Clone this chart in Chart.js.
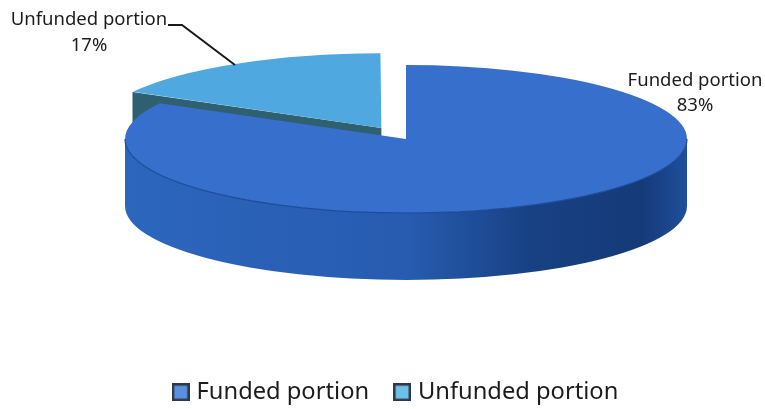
<!DOCTYPE html>
<html>
<head>
<meta charset="utf-8">
<style>
  html, body { margin: 0; padding: 0; background: #fff; }
  #wrap { width: 765px; height: 409px; }
</style>
<script src="https://cdn.jsdelivr.net/npm/chart.js@4"></script>
</head>
<body>
<div id="wrap"><canvas id="chart" width="765" height="409"></canvas></div>
<script>
const CATEGORIES = ['Funded portion', 'Unfunded portion'];
const VALUES = [83, 17];
const SHARE_LABELS = ['83%', '17%'];
const TOP_COLORS = ['#3670cc', '#4fa8e0'];
const LEGEND_COLORS = ['#5a8fe2', '#6fbfeb'];

const FONT = '"Noto Sans", sans-serif';
const TEXT_COLOR = '#1c1c1c';

// ellipse the flat pie gets squeezed into
const PIE = { cx: 406, cy: 139, rx: 281, ry: 74, depth: 67 };

// same scale for both slices, taken from the big one
function pieTransform(ctx, base) {
  const kx = PIE.rx / base.outerRadius;
  const ky = PIE.ry / base.outerRadius;
  ctx.translate(PIE.cx, PIE.cy);
  ctx.scale(kx, ky);
  ctx.translate(-base.x, -base.y);
  return PIE.depth / ky;
}

// ── 3D WALLS ──────────────────────────────────────────────
// Drawn under the tops. Arc angles come from the chart's own elements.
function drawWalls(chart, arcs) {
  const ctx = chart.ctx;
  const [funded, unfunded] = arcs;

  // radial wall of the pulled out slice
  ctx.save();
  const depth = pieTransform(ctx, funded);
  const mid = (unfunded.startAngle + unfunded.endAngle) / 2;
  const off = (unfunded.options.offset || 0) / 4;
  const fix = 1 - Math.sin(Math.min(Math.PI, unfunded.circumference));
  const r = unfunded.outerRadius + off * fix; // radius the arc really draws with
  const ox = unfunded.x + Math.cos(mid) * off;
  const oy = unfunded.y + Math.sin(mid) * off;
  const ex = ox + Math.cos(unfunded.startAngle) * r;
  const ey = oy + Math.sin(unfunded.startAngle) * r;
  ctx.beginPath();
  ctx.moveTo(ox, oy);
  ctx.lineTo(ex, ey);
  ctx.lineTo(ex, ey + depth);
  ctx.lineTo(ox, oy + depth);
  ctx.closePath();
  ctx.fillStyle = '#2f6070';
  ctx.fill();
  ctx.restore();

  // curved front wall of the big slice
  ctx.save();
  pieTransform(ctx, funded);
  const R = funded.outerRadius;
  const grad = ctx.createLinearGradient(funded.x - R, 0, funded.x + R, 0);
  grad.addColorStop(0, '#2c66bd');
  grad.addColorStop(0.5, '#275cb0');
  grad.addColorStop(0.72, '#184184');
  grad.addColorStop(0.92, '#153a78');
  grad.addColorStop(1, '#1f4f9c');
  ctx.beginPath();
  ctx.arc(funded.x, funded.y, R, 0, Math.PI);
  ctx.lineTo(funded.x - R, funded.y + depth);
  ctx.arc(funded.x, funded.y + depth, R, Math.PI, 0, true);
  ctx.closePath();
  ctx.fillStyle = grad;
  ctx.fill();
  ctx.restore();
}

function drawRim(chart, funded) {
  const ctx = chart.ctx;
  ctx.save();
  pieTransform(ctx, funded);
  ctx.beginPath();
  ctx.arc(funded.x, funded.y, funded.outerRadius, 0, Math.PI);
  ctx.restore();
  ctx.strokeStyle = '#1d4c9c';
  ctx.lineWidth = 1.2;
  ctx.stroke();
}

function drawLabels(chart) {
  const ctx = chart.ctx;
  ctx.save();
  ctx.fillStyle = TEXT_COLOR;
  ctx.font = '18.5px ' + FONT;
  ctx.textAlign = 'center';
  ctx.textBaseline = 'middle';
  ctx.fillText(CATEGORIES[0], 695, 81);
  ctx.fillText(SHARE_LABELS[0], 695, 106);
  ctx.fillText(CATEGORIES[1], 89, 20);
  ctx.fillText(SHARE_LABELS[1], 89, 46);

  // leader line for the small slice
  ctx.beginPath();
  ctx.moveTo(168, 25);
  ctx.lineTo(182, 25);
  ctx.lineTo(235, 65);
  ctx.strokeStyle = '#1a1a1a';
  ctx.lineWidth = 2;
  ctx.stroke();
  ctx.restore();
}

const squashPlugin = {
  id: 'squash',
  // Chart.js grows a pulled out arc by offset * fix, take half of that back off
  afterDatasetsUpdate(chart) {
    const arc = chart.getDatasetMeta(0).data[1];
    const fix = 1 - Math.sin(Math.min(Math.PI, arc.circumference));
    arc.outerRadius -= (arc.options.offset / 4) * fix * 0.5;
  },
  beforeDatasetsDraw(chart) {
    const arcs = chart.getDatasetMeta(0).data;
    drawWalls(chart, arcs);
    chart.ctx.save();
    pieTransform(chart.ctx, arcs[0]);
  },
  afterDatasetsDraw(chart) {
    chart.ctx.restore();
    drawRim(chart, chart.getDatasetMeta(0).data[0]);
    drawLabels(chart);
  },
};

// legend swatch with dark frame
function makeSwatch(color) {
  const c = document.createElement('canvas');
  c.width = 18;
  c.height = 18;
  const g = c.getContext('2d');
  g.fillStyle = color;
  g.fillRect(0, 0, 18, 18);
  g.strokeStyle = '#2b3a44';
  g.lineWidth = 2.5;
  g.strokeRect(1.25, 1.25, 15.5, 15.5);
  return c;
}

new Chart(document.getElementById('chart'), {
  type: 'pie',
  data: {
    labels: CATEGORIES,
    datasets: [{
      data: VALUES,
      backgroundColor: TOP_COLORS,
      borderWidth: 0,
      offset: [0, 90],
      clip: false,
    }],
  },
  options: {
    responsive: false,
    animation: false,
    events: [],
    rotation: 0,
    layout: { padding: { left: 30, bottom: -5 } },
    plugins: {
      tooltip: { enabled: false },
      legend: {
        position: 'bottom',
        labels: {
          usePointStyle: true,
          pointStyleWidth: 8,
          padding: 29,
          color: TEXT_COLOR,
          font: { family: FONT, size: 23.7 },
          generateLabels: () => CATEGORIES.map((text, i) => ({
            text,
            pointStyle: makeSwatch(LEGEND_COLORS[i]),
            fontColor: TEXT_COLOR,
            lineWidth: 0,
            hidden: false,
            index: i,
          })),
        },
      },
    },
  },
  plugins: [squashPlugin],
});
</script>
</body>
</html>
